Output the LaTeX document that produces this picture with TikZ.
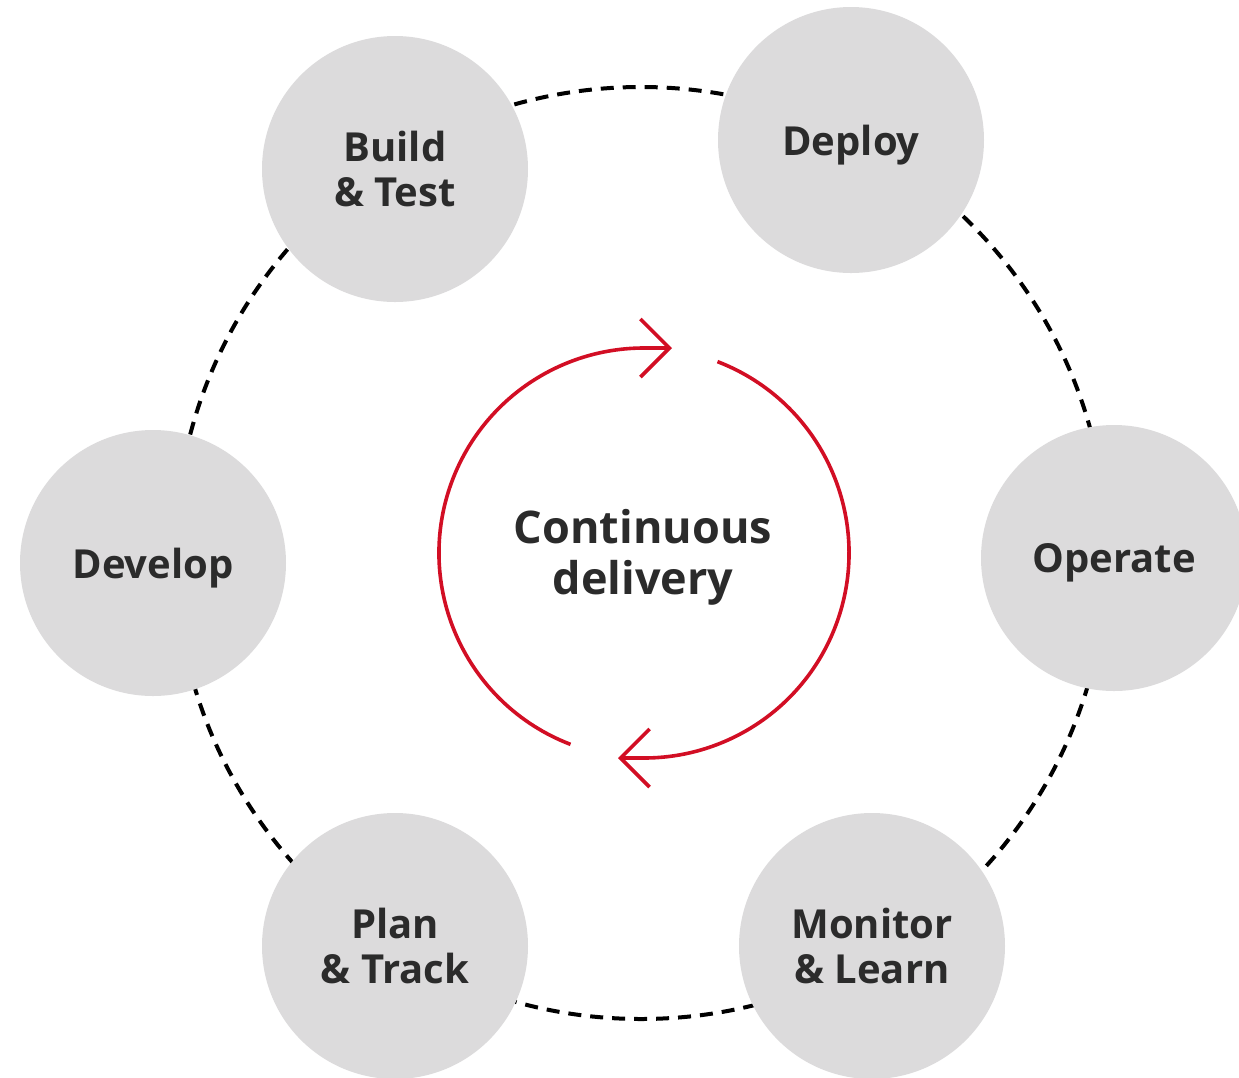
\documentclass[tikz,border=0pt]{standalone}
\usepackage{fontspec}
\setmainfont{Open Sans}
\usetikzlibrary{arrows.meta}
\definecolor{stagegray}{RGB}{220,219,220}
\definecolor{loopred}{RGB}{210,14,36}
\definecolor{labelink}{RGB}{43,43,43}
\tikzset{>={Straight Barb[length=14.5pt,width=29pt]}}
\tikzset{
  stage/.style={circle, fill=stagegray, minimum size=133pt, inner sep=0pt,
    align=center, text=labelink, font=\fontsize{20}{22.5}\selectfont\bfseries},
  oneline/.style={text depth=0pt},
  ring/.style={line width=2pt, dash pattern=on 6.5pt off 4.5pt},
  loop/.style={loopred, line width=1.8pt, ->},
}

\begin{document}
\begin{tikzpicture}[x=0.5pt, y=-0.5pt]
  \useasboundingbox (0,0) rectangle (1239,1078);

  % Centre
  \coordinate (hub) at (641,553);
  \coordinate (loopc) at (644,553);
  \node[text=labelink, align=center, font=\fontsize{22.5}{25.5}\selectfont\bfseries]
    (cd) at (643,557) {Continuous\\delivery};

  % Ring
  \draw[ring] (hub) circle[radius=466];

  % Nodes
  \node[stage]          (build)   at (395,169)  {Build\\\& Test};
  \node[stage, oneline] (deploy)  at (851,140)  {Deploy};
  \node[stage, oneline] (operate) at (1114,558) {Operate};
  \node[stage]          (monitor) at (872,946)  {Monitor\\\& Learn};
  \node[stage]          (plan)    at (395,946)  {Plan\\\& Track};
  \node[stage, oneline] (develop) at (153,563)  {Develop};

  % Loop arrows
  \draw[loop] ([shift={(111:205)}]loopc) arc[start angle=111, end angle=270, radius=205] -- ++(28,0);
  \draw[loop] ([shift={(291:205)}]loopc) arc[start angle=291, end angle=450, radius=205] -- ++(-26,0);

\end{tikzpicture}
\end{document}
